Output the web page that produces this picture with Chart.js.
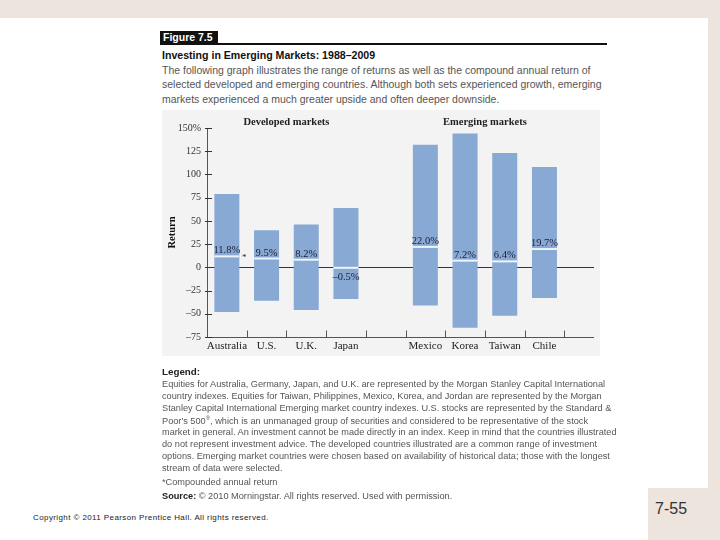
<!DOCTYPE html>
<html>
<head>
<meta charset="utf-8">
<script src="https://cdn.jsdelivr.net/npm/chart.js@4/dist/chart.umd.min.js"></script>
<style>
  body { margin: 0; width: 720px; height: 540px; background: #fff; position: relative; overflow: hidden;
         font-family: "Liberation Sans", Arial, sans-serif; }
  .abs { position: absolute; white-space: nowrap; }
  #topband { left: 0; top: 0; width: 720px; height: 18px; background: #ede4dd; }
  #rightband { left: 708px; top: 0; width: 12px; height: 540px; background: #ede4dd; }
  #pagebox { left: 648px; top: 488px; width: 72px; height: 52px; background: #ede4dd; }
  #figbox { left: 160px; top: 31px; width: 58px; height: 13px; background: #111; color: #fff;
            font-weight: bold; font-size: 10.5px; line-height: 13px; padding-left: 3px; box-sizing: border-box; }
  #rule { left: 160px; top: 43px; width: 447px; height: 1.5px; background: #111; }
  #title { left: 162px; top: 49px; font-weight: bold; font-size: 10.6px; color: #111; }
  .para { left: 162px; font-size: 10.5px; color: #555; }
  .leg { left: 162px; font-size: 9.2px; color: #555; }
  #panel { left: 162px; top: 110px; width: 438px; height: 246px; background: #f3f3f3; }
  #chartwrap { left: 162px; top: 110px; width: 450px; height: 262px; }
  #copy { left: 33px; top: 513px; font-size: 8px; color: #222; letter-spacing: 0.4px; }
  #pnum { left: 655px; top: 500px; font-size: 16px; color: #333; }
</style>
</head>
<body>
<div class="abs" id="topband"></div>
<div class="abs" id="rightband"></div>
<div class="abs" id="pagebox"></div>
<div class="abs" id="figbox">Figure 7.5</div>
<div class="abs" id="rule"></div>
<div class="abs" id="title">Investing in Emerging Markets: 1988–2009</div>
<div class="abs para" style="top:63.5px">The following graph illustrates the range of returns as well as the compound annual return of</div>
<div class="abs para" style="top:78px">selected developed and emerging countries. Although both sets experienced growth, emerging</div>
<div class="abs para" style="top:92.5px">markets experienced a much greater upside and often deeper downside.</div>

<div class="abs" id="panel"></div>
<div class="abs" id="chartwrap"><canvas id="returnsChart" width="450" height="262"></canvas></div>

<div class="abs" style="left:162px;top:366px;font-weight:bold;font-size:9.8px;color:#222">Legend:</div>
<div class="abs leg" style="top:379px">Equities for Australia, Germany, Japan, and U.K. are represented by the Morgan Stanley Capital International</div>
<div class="abs leg" style="top:391px">country indexes. Equities for Taiwan, Philippines, Mexico, Korea, and Jordan are represented by the Morgan</div>
<div class="abs leg" style="top:403px">Stanley Capital International Emerging market country indexes. U.S. stocks are represented by the Standard &amp;</div>
<div class="abs leg" style="top:415px">Poor's 500<sup style="font-size:6px">®</sup>, which is an unmanaged group of securities and considered to be representative of the stock</div>
<div class="abs leg" style="top:427px">market in general. An investment cannot be made directly in an index. Keep in mind that the countries illustrated</div>
<div class="abs leg" style="top:439px">do not represent investment advice. The developed countries illustrated are a common range of investment</div>
<div class="abs leg" style="top:451px">options. Emerging market countries were chosen based on availability of historical data; those with the longest</div>
<div class="abs leg" style="top:463px">stream of data were selected.</div>
<div class="abs leg" style="top:477px">*Compounded annual return</div>
<div class="abs leg" style="top:491px"><b style="color:#222">Source:</b> © 2010 Morningstar. All rights reserved. Used with permission.</div>

<div class="abs" id="copy">Copyright © 2011 Pearson Prentice Hall. All rights reserved.</div>
<div class="abs" id="pnum">7-55</div>

<script>
// chart data
const countries = ['Australia', 'U.S.', 'U.K.', 'Japan', '', 'Mexico', 'Korea', 'Taiwan', 'Chile', ''];
const highReturns = [79, 40, 46, 64, null, 132, 144, 123, 108, null];
const lowReturns = [-48, -36, -46, -34, null, -41, -65, -52, -33, null];
const compoundReturns = [11.8, 9.5, 8.2, -0.5, null, 22.0, 7.2, 6.4, 19.7, null];
const groupTitles = ['Developed markets', 'Emerging markets'];
const groupRanges = [[0, 3], [5, 8]];
const yTicks = [-75, -50, -25, 0, 25, 50, 75, 100, 125, 150];

const serif = '"Liberation Serif", "DejaVu Serif", serif';
const ink = '#1d1d33';

function fmtTick(v) {
    if (v === 150) return '150%';
    return v < 0 ? '\u2013' + (-v) : String(v);
}
function fmtPct(v) {
    return (v < 0 ? '\u2013' : '') + Math.abs(v).toFixed(1) + '%';
}

// axis lines, ticks, zero line (drawn under the bars)
const axisPlugin = {
    id: 'axisDecor',
    beforeDatasetsDraw(chart) {
        const { ctx, chartArea, scales: { x, y } } = chart;
        const catW = x.getPixelForValue(1) - x.getPixelForValue(0);
        const endX = x.getPixelForValue(8) + catW * 1.25;
        ctx.save();
        ctx.strokeStyle = '#333';
        ctx.lineWidth = 1;
        // zero line
        const y0 = Math.round(y.getPixelForValue(0)) + 0.5;
        ctx.beginPath();
        ctx.moveTo(chartArea.left, y0);
        ctx.lineTo(endX, y0);
        ctx.stroke();
        // bottom axis
        const yb = Math.round(chartArea.bottom) + 0.5;
        ctx.strokeStyle = '#555';
        ctx.beginPath();
        ctx.moveTo(chartArea.left, yb);
        ctx.lineTo(endX, yb);
        ctx.stroke();
        // x ticks between categories
        for (let i = 1; i <= 9; i++) {
            const tx = Math.round(x.getPixelForValue(i) - catW / 2) + 0.5;
            ctx.beginPath();
            ctx.moveTo(tx, yb);
            ctx.lineTo(tx, yb - 7);
            ctx.stroke();
        }
        // y ticks
        ctx.strokeStyle = '#333';
        yTicks.forEach(v => {
            const ty = Math.round(y.getPixelForValue(v)) + 0.5;
            ctx.beginPath();
            ctx.moveTo(chartArea.left - 2, ty);
            ctx.lineTo(chartArea.left + 5, ty);
            ctx.stroke();
        });
        ctx.restore();
    },
    afterDatasetsDraw(chart) {
        const { ctx, chartArea, scales: { x, y } } = chart;
        const meta = chart.getDatasetMeta(0);
        ctx.save();
        ctx.textAlign = 'center';
        compoundReturns.forEach((v, i) => {
            if (v === null) return;
            const bar = meta.data[i];
            const ly = y.getPixelForValue(v);
            ctx.strokeStyle = '#eef4fb';
            ctx.lineWidth = 2;
            ctx.beginPath();
            ctx.moveTo(bar.x - bar.width / 2, ly);
            ctx.lineTo(bar.x + bar.width / 2, ly);
            ctx.stroke();
            ctx.fillStyle = ink;
            ctx.font = '10.5px ' + serif;
            if (v < 0) {
                ctx.textBaseline = 'top';
                ctx.fillText(fmtPct(v), bar.x, ly + 4);
            } else {
                ctx.textBaseline = 'alphabetic';
                ctx.fillText(fmtPct(v), bar.x, ly - 3);
            }
            if (i === 0) {
                // footnote star next to the first value
                ctx.font = '9px ' + serif;
                ctx.fillText('*', bar.x + bar.width / 2 + 5, ly + 4);
            }
        });
        // group headings
        ctx.font = 'bold 10.5px ' + serif;
        ctx.fillStyle = '#222';
        ctx.textBaseline = 'middle';
        groupTitles.forEach((t, g) => {
            const [a, b] = groupRanges[g];
            const cx = (x.getPixelForValue(a) + x.getPixelForValue(b)) / 2;
            ctx.fillText(t, cx, chartArea.top - 6);
        });
        ctx.restore();
    }
};

const ctx = document.getElementById('returnsChart').getContext('2d');
new Chart(ctx, {
    type: 'bar',
    data: {
        labels: countries,
        datasets: [{
            label: 'Range of returns',
            data: countries.map((c, i) => highReturns[i] === null ? null : [lowReturns[i], highReturns[i]]),
            backgroundColor: '#88a9d4',
            borderWidth: 0,
            categoryPercentage: 1,
            barPercentage: 0.63
        }]
    },
    options: {
        responsive: false,
        devicePixelRatio: 1,
        animation: false,
        layout: { padding: { top: 18, right: 8, left: 0, bottom: 16 } },
        plugins: { legend: { display: false }, tooltip: { enabled: false } },
        scales: {
            x: {
                grid: { display: false, drawTicks: false },
                border: { display: false },
                ticks: { color: '#222', padding: 3, maxRotation: 0, autoSkip: false,
                         font: { family: serif, size: 11 } },
                afterFit(s) { s.height = 19; }
            },
            y: {
                min: -75,
                max: 150,
                grid: { display: false, drawTicks: false },
                border: { display: true, color: '#555', width: 1 },
                ticks: { stepSize: 25, padding: 6, color: '#333', callback: fmtTick,
                         font: { family: serif, size: 10 } },
                title: { display: true, text: 'Return', color: '#111', padding: { top: 4, bottom: 0 },
                         font: { family: serif, size: 10.5, weight: 'bold' } },
                afterFit(s) { s.width = 45; }
            }
        }
    },
    plugins: [axisPlugin]
});
</script>
</body>
</html>
